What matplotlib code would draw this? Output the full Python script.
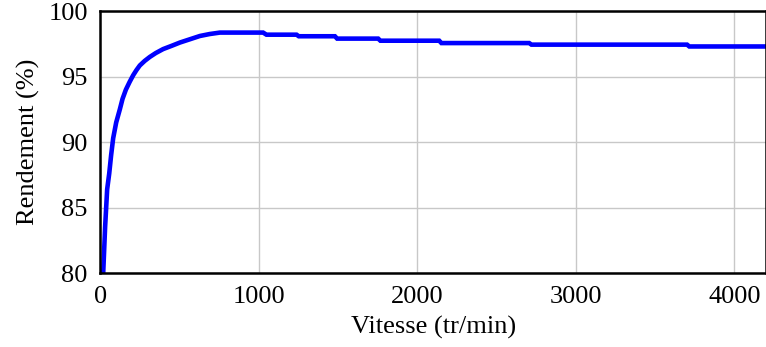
import matplotlib.pyplot as plt

plt.rcParams['font.family'] = ['Liberation Serif', 'DejaVu Serif']

# vitesse (tr/min) et rendement (%)
vitesse = [18, 30, 43, 56, 68, 81, 100, 123, 140, 161, 185, 207, 228, 249, 280, 312,
           350, 396, 450, 502, 565, 628, 690, 754, 1027, 1048, 1238, 1252, 1480,
           1494, 1753, 1767, 2138, 2152, 2706, 2720, 3702, 3716, 4200]
rendement = [80.0, 83.5, 86.4, 87.6, 89.0, 90.3, 91.5, 92.5, 93.3, 94.0, 94.6, 95.1,
             95.5, 95.85, 96.2, 96.5, 96.8, 97.1, 97.35, 97.6, 97.85, 98.1, 98.25,
             98.36, 98.36, 98.2, 98.2, 98.08, 98.08, 97.9, 97.9, 97.74, 97.74,
             97.56, 97.56, 97.44, 97.44, 97.3, 97.3]

fig = plt.figure(figsize=(7.66, 3.47), dpi=100)
ax = fig.add_axes([0.131, 0.213, 0.869, 0.755])

ax.plot(vitesse, rendement, color='#0000ff', lw=3.3, solid_joinstyle='miter')

ax.set_xlim(0, 4200)
ax.set_ylim(80, 100)
ax.set_xticks([0, 1000, 2000, 3000, 4000])
ax.set_yticks([80, 85, 90, 95, 100])
ax.grid(True, color='#c8c8c8', lw=1)
ax.set_axisbelow(True)
ax.tick_params(axis='x', length=0, labelsize=19, pad=9)
ax.tick_params(axis='y', length=0, labelsize=19, pad=9)
for s in ax.spines.values():
    s.set_linewidth(1.8)

ax.set_xlabel('Vitesse (tr/min)', fontsize=19, labelpad=6)
ax.set_ylabel('Rendement (%)', fontsize=19, labelpad=6)

fig.savefig('out.png', dpi=100)
